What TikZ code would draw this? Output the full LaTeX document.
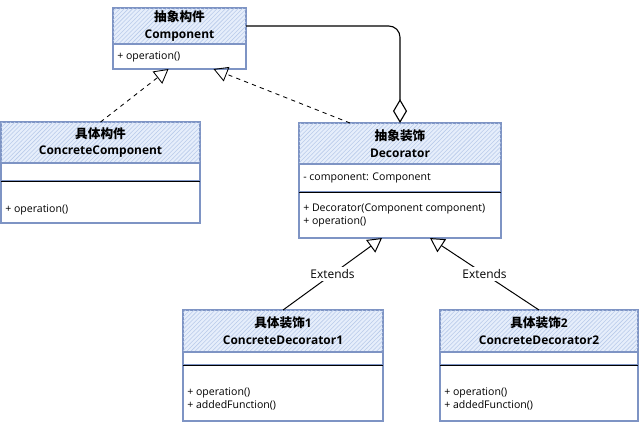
\documentclass[tikz,border=0pt]{standalone}
\usepackage{fontspec}
\setmainfont{Open Sans}
\newfontfamily\cjk{Noto Sans CJK SC}
\usetikzlibrary{calc, %for shifted anchors
                arrows.meta, % for open triangles and diamond
                patterns, % for hatched headers
                positioning}
\definecolor{boxline}{HTML}{7E94C4}
\definecolor{headfill}{HTML}{E6EEFB}
\definecolor{hatch}{HTML}{B9CBEA}

\begin{document}
\begin{tikzpicture}[x=0.025cm, y=-0.025cm,
                    classhead/.style={draw=boxline, thick, fill=headfill, postaction={pattern=north east lines, pattern color=hatch},
                                      anchor=north west, inner sep=0pt, outer sep=0pt, align=center,
                                      font=\fontsize{8.5}{12}\selectfont\bfseries},
                    compart/.style={draw=boxline, thick, fill=white, inner sep=0pt, outer sep=0pt},
                    member/.style={anchor=west, inner sep=0pt, align=left, font=\fontsize{7.5}{9.2}\selectfont},
                    realize/.style={dashed, line width=0.6pt, -{Triangle[open, length=10pt, width=11pt]}},
                    extends/.style={line width=0.7pt, -{Triangle[open, length=10pt, width=11pt]}},
                    aggr/.style={line width=0.8pt, rounded corners=8pt, -{Diamond[open, length=17pt, width=10pt]}},
                    lbl/.style={fill=white, inner sep=1.5pt, font=\fontsize{8.5}{9}\selectfont}
                    ]
    \useasboundingbox (0,0) rectangle (640,424);

    % COMPONENT %
    \node[classhead, minimum width=3.325cm, minimum height=0.9cm] (chead) at (113,8) {{\cjk\bfseries\fontsize{9}{12}\selectfont 抽象构件}\\Component};
    \node[compart, below=0pt of chead, minimum width=3.325cm, minimum height=0.625cm] (cbody) {};
    \node[member] (cop) at ($(cbody.west)+(4,0)$) {+ operation()};

    % CONCRETE COMPONENT %
    \node[classhead, minimum width=4.975cm, minimum height=1.025cm] (cchead) at (1,122) {{\cjk\bfseries\fontsize{9}{12}\selectfont 具体构件}\\ConcreteComponent};
    \node[compart, below=0pt of cchead, minimum width=4.975cm, minimum height=0.45cm] (ccattr) {};
    \node[compart, below=0pt of ccattr, minimum width=4.975cm, minimum height=1.05cm] (ccmeth) {};
    \draw (ccattr.south west) -- (ccattr.south east);
    \node[member] (ccop) at ($(ccmeth.south west)+(4,-13)$) {+ operation()};

    % DECORATOR %
    \node[classhead, minimum width=5.05cm, minimum height=1.025cm] (dhead) at (299,123) {{\cjk\bfseries\fontsize{9}{12}\selectfont 抽象装饰}\\Decorator};
    \node[compart, below=0pt of dhead, minimum width=5.05cm, minimum height=0.7cm] (dattr) {};
    \node[compart, below=0pt of dattr, minimum width=5.05cm, minimum height=1.15cm] (dmeth) {};
    \draw (dattr.south west) -- (dattr.south east);
    \node[member] (dfield) at ($(dattr.west)+(4,0)$) {- component: Component};
    \node[member] (dops) at ($(dmeth.west)+(4,0)$) {+ Decorator(Component component)\\+ operation()};

    % CONCRETE DECORATORS %
    \foreach \n/\x/\w in {1/183/5cm, 2/440/4.95cm}{
    \node[classhead, minimum width=\w, minimum height=1.05cm] (cd\n head) at (\x,310) {{\cjk\bfseries\fontsize{9}{12}\selectfont 具体装饰}\n\\ConcreteDecorator\n};
    \node[compart, below=0pt of cd\n head, minimum width=\w, minimum height=0.325cm] (cd\n attr) {};
    \node[compart, below=0pt of cd\n attr, minimum width=\w, minimum height=1.4cm] (cd\n meth) {};
    \draw (cd\n attr.south west) -- (cd\n attr.south east);
    \node[member] (cd\n ops) at ($(cd\n meth.west)+(4,5.5)$) {+ operation()\\+ addedFunction()};
    }

    % RELATIONS %
    \draw[aggr] (chead.east) -| (dhead.north);
    \draw[realize] (cchead.north) -- ($(cbody.south)+(-11,0)$);
    \draw[realize] ($(dhead.north)+(-50,0)$) -- ($(cbody.south)+(34,0)$);
    \draw[extends] (cd1head.north) -- node[lbl, pos=0.5]{Extends} ($(dmeth.south)+(-18,0)$);
    \draw[extends] (cd2head.north) -- node[lbl, pos=0.5]{Extends} ($(dmeth.south)+(30,0)$);
\end{tikzpicture}
\end{document}
